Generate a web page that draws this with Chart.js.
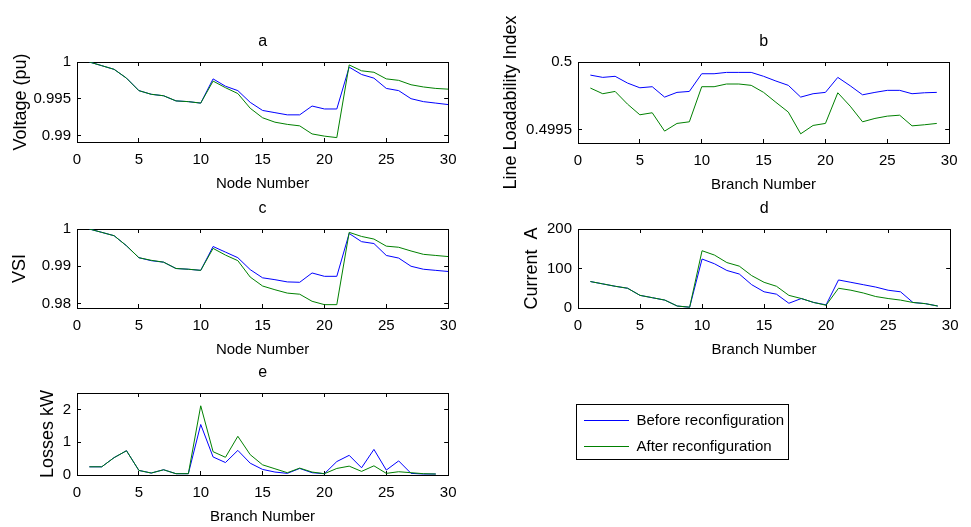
<!DOCTYPE html>
<html>
<head>
<meta charset="utf-8">
<script src="https://cdn.jsdelivr.net/npm/chart.js@4.4.1/dist/chart.umd.min.js"></script>
<style>
  body { margin: 0; background: #fff; width: 971px; height: 527px; position: relative; overflow: hidden; }
  canvas { position: absolute; }
</style>
</head>
<body>
<canvas id="plotA"></canvas>
<canvas id="plotB"></canvas>
<canvas id="plotC"></canvas>
<canvas id="plotD"></canvas>
<canvas id="plotE"></canvas>
<canvas id="legendBox"></canvas>
<script>
// x categories
const nodes = [1,2,3,4,5,6,7,8,9,10,11,12,13,14,15,16,17,18,19,20,21,22,23,24,25,26,27,28,29,30];
const branches = [1,2,3,4,5,6,7,8,9,10,11,12,13,14,15,16,17,18,19,20,21,22,23,24,25,26,27,28,29];

// a - node voltage (pu)
const voltBefore = [1.0000,0.9995,0.9990,0.9978,0.9961,0.9956,0.9954,0.9947,0.9946,0.9944,0.9977,0.9967,0.9961,0.9945,0.9934,0.9931,0.9928,0.9928,0.9940,0.9936,0.9936,0.9993,0.9983,0.9978,0.9964,0.9961,0.9950,0.9946,0.9944,0.9942];
const voltAfter  = [1.0000,0.9995,0.9990,0.9978,0.9961,0.9956,0.9954,0.9947,0.9946,0.9944,0.9974,0.9965,0.9957,0.9937,0.9924,0.9918,0.9915,0.9913,0.9902,0.9899,0.9897,0.9996,0.9988,0.9986,0.9977,0.9975,0.9969,0.9966,0.9964,0.9963];

// b - line loadability index
const lliBefore = [0.499903,0.499886,0.499894,0.499844,0.499809,0.499817,0.499740,0.499775,0.499782,0.499913,0.499913,0.499923,0.499923,0.499923,0.499894,0.499859,0.499827,0.499740,0.499765,0.499775,0.499886,0.499824,0.499757,0.499775,0.499790,0.499790,0.499765,0.499772,0.499775];
const lliAfter  = [0.499807,0.499765,0.499782,0.499688,0.499609,0.499624,0.499488,0.499545,0.499557,0.499817,0.499817,0.499837,0.499837,0.499827,0.499775,0.499701,0.499629,0.499468,0.499530,0.499545,0.499772,0.499673,0.499557,0.499582,0.499599,0.499606,0.499527,0.499535,0.499545];

// c - voltage stability index
const vsiBefore = [1.0000,0.9991,0.9982,0.9955,0.9923,0.9915,0.9911,0.9894,0.9892,0.9889,0.9953,0.9938,0.9923,0.9891,0.9869,0.9864,0.9858,0.9857,0.9882,0.9873,0.9873,0.9988,0.9966,0.9961,0.9929,0.9922,0.9900,0.9892,0.9889,0.9886];
const vsiAfter  = [1.0000,0.9991,0.9982,0.9955,0.9923,0.9916,0.9911,0.9894,0.9892,0.9889,0.9948,0.9930,0.9915,0.9871,0.9847,0.9837,0.9828,0.9825,0.9806,0.9797,0.9797,0.9991,0.9980,0.9973,0.9954,0.9951,0.9941,0.9932,0.9929,0.9926];

// d - branch current (A)
const currBefore = [67,61,55,50,32,26,20,5,2,124,112,95,86,59,41,35,12,24,14,8,71,65,59,53,45,41,14,11,5];
const currAfter  = [67,61,55,50,32,26,20,5,2,145,134,115,106,82,65,55,32,24,14,7,50,45,38,29,24,20,14,11,5];

// e - branch losses (kW)
const lossBefore = [0.25,0.25,0.53,0.74,0.14,0.06,0.16,0.04,0.04,1.54,0.55,0.38,0.75,0.36,0.17,0.09,0.05,0.20,0.07,0.04,0.41,0.60,0.22,0.78,0.15,0.43,0.05,0.03,0.03];
const lossAfter  = [0.25,0.25,0.53,0.74,0.14,0.06,0.16,0.04,0.04,2.11,0.71,0.54,1.18,0.62,0.31,0.19,0.07,0.21,0.09,0.04,0.20,0.27,0.11,0.28,0.05,0.10,0.07,0.04,0.03];

// tick labels
const xTicks = [0,5,10,15,20,25,30];
const voltTicks = [0.99,0.995,1];
const lliTicks = [0.4995,0.5];
const vsiTicks = [0.98,0.99,1];
const currTicks = [0,100,200];
const lossTicks = [0,1,2];

const blue = '#0000ff';
const green = '#008000';

Chart.defaults.font.family = "'Liberation Sans', Arial, sans-serif";
Chart.defaults.color = '#000';
Chart.defaults.animation = false;

function setTicks(vals) {
  return s => { s.ticks = vals.map(v => ({ value: v })); };
}

function axis(pos, min, max, vals, fit, extra) {
  return Object.assign({
    type: 'linear', position: pos, min: min, max: max,
    grid: { drawOnChartArea: false, color: '#000', lineWidth: 1, tickLength: -4 },
    border: { color: '#000', width: 1 },
    afterBuildTicks: setTicks(vals),
    afterFit: fit,
    ticks: { display: false }
  }, extra || {});
}

function subplot(id, p) {
  const [L, T, R, B] = p.plot;
  const cl = p.left, ct = p.top, cr = R + 10, cb = B + 56;
  const cv = document.getElementById(id);
  cv.width = cr - cl; cv.height = cb - ct;
  cv.style.left = cl + 'px'; cv.style.top = ct + 'px';

  const series = (ys) => p.xs.map((x, i) => ({ x: x, y: ys[i] }));

  new Chart(cv, {
    type: 'line',
    data: {
      datasets: [
        { label: 'Before reconfiguration', data: series(p.before), borderColor: blue, borderWidth: 1, pointRadius: 0, tension: 0, order: 1 },
        { label: 'After reconfiguration', data: series(p.after), borderColor: green, borderWidth: 1, pointRadius: 0, tension: 0, order: 0 }
      ]
    },
    options: {
      responsive: false,
      animation: false,
      events: [],
      layout: { padding: { left: 0, top: 0, right: cr - R, bottom: 0 } },
      plugins: {
        legend: { display: false },
        tooltip: { enabled: false },
        title: {
          display: true, text: p.title, fullSize: false,
          font: { size: 16, weight: 'normal' },
          padding: { top: (T - 20) - ct - 9.6, bottom: 20 - 9.6 }
        }
      },
      scales: {
        x: axis('bottom', 0, 30, xTicks, s => { s.height = cb - B; }, {
          ticks: { display: true, padding: 12.5, font: { size: 15 }, maxRotation: 0, autoSkip: false },
          title: { display: true, text: p.xTitle, font: { size: 15 }, padding: { top: 0, bottom: (cb - B) - 42 - 9 } }
        }),
        x2: axis('top', 0, 30, xTicks, s => { s.height = 0; }),
        y: axis('left', p.yMin, p.yMax, p.yTicks, s => { s.width = L - cl; }, {
          ticks: { display: true, padding: 10, font: { size: 15 }, callback: v => String(v) },
          title: { display: true, text: p.yTitle, font: { size: 18 }, padding: { top: p.yTitleX - cl - 10.8, bottom: 0 } }
        }),
        y2: axis('right', p.yMin, p.yMax, p.yTicks, s => { s.width = 0; })
      }
    }
  });
}

subplot('plotA', { left: 0, top: 20, plot: [77, 62, 459, 142], title: 'a', xTitle: 'Node Number', yTitle: 'Voltage (pu)', yTitleX: 21,
  xs: nodes, before: voltBefore, after: voltAfter, yMin: 0.9891, yMax: 1, yTicks: voltTicks });
subplot('plotB', { left: 490, top: 0, plot: [578, 62, 960, 143], title: 'b', xTitle: 'Branch Number', yTitle: 'Line Loadability Index', yTitleX: 511,
  xs: branches, before: lliBefore, after: lliAfter, yMin: 0.49940, yMax: 0.5, yTicks: lliTicks });
subplot('plotC', { left: 0, top: 187, plot: [77, 229, 459, 308], title: 'c', xTitle: 'Node Number', yTitle: 'VSI', yTitleX: 20,
  xs: nodes, before: vsiBefore, after: vsiAfter, yMin: 0.9788, yMax: 1, yTicks: vsiTicks });
subplot('plotD', { left: 490, top: 187, plot: [578, 229, 961, 308], title: 'd', xTitle: 'Branch Number', yTitle: 'Current  A', yTitleX: 532,
  xs: branches, before: currBefore, after: currAfter, yMin: 0, yMax: 200, yTicks: currTicks });
subplot('plotE', { left: 0, top: 351, plot: [77, 393, 459, 475], title: 'e', xTitle: 'Branch Number', yTitle: 'Losses kW', yTitleX: 48,
  xs: branches, before: lossBefore, after: lossAfter, yMin: 0, yMax: 2.5, yTicks: lossTicks });

// legend, drawn by Chart.js in its own small canvas
const lg = document.getElementById('legendBox');
lg.width = 220; lg.height = 62;
lg.style.left = '573px'; lg.style.top = '402px';
new Chart(lg, {
  type: 'line',
  data: {
    datasets: [
      { label: 'Before reconfiguration', data: [], borderColor: blue, borderWidth: 1 },
      { label: 'After reconfiguration', data: [], borderColor: green, borderWidth: 1 }
    ]
  },
  options: {
    responsive: false,
    animation: false,
    events: [],
    scales: { x: { display: false }, y: { display: false } },
    plugins: {
      tooltip: { enabled: false },
      legend: {
        position: 'top', align: 'start', maxHeight: 62,
        labels: { usePointStyle: true, pointStyle: 'line', pointStyleWidth: 45, padding: 11, font: { size: 15 }, color: '#000' }
      }
    }
  },
  plugins: [{
    id: 'frame',
    afterDraw(chart) {
      const c = chart.ctx;
      c.save();
      c.strokeStyle = '#000';
      c.lineWidth = 1;
      c.strokeRect(3.5, 2.5, 212, 55);
      c.restore();
    }
  }]
});
</script>
</body>
</html>
